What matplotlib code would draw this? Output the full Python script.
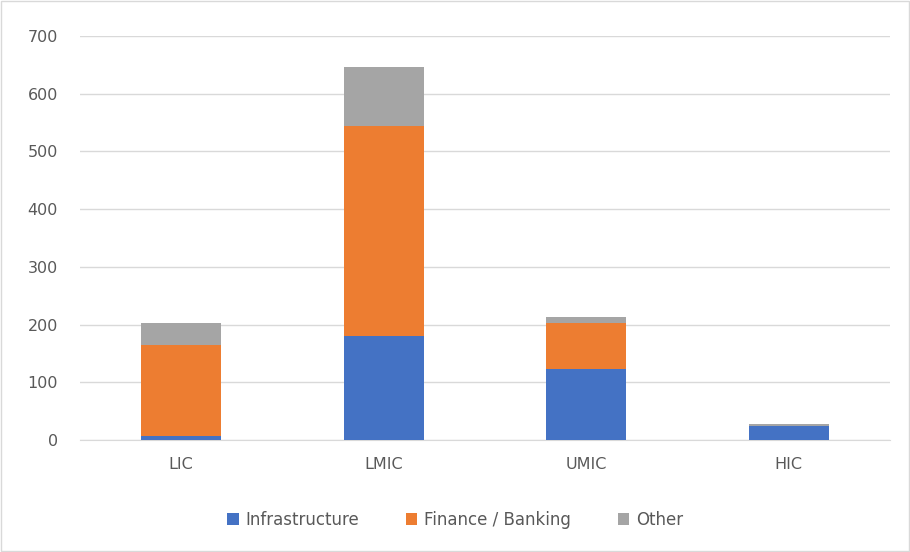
import matplotlib.pyplot as plt
import numpy as np

# income groups and stacked values
categories = ['LIC', 'LMIC', 'UMIC', 'HIC']
infrastructure = [7, 180, 123, 25]
finance_banking = [157, 364, 80, 0]
other = [39, 102, 10, 2]

colors = {'Infrastructure': '#4472C4', 'Finance / Banking': '#ED7D31', 'Other': '#A5A5A5'}
text_color = '#595959'

fig = plt.figure(figsize=(9.1, 5.52), dpi=100)
ax = fig.add_axes([80 / 910, 1 - 440 / 552, 810 / 910, 404 / 552])

x = np.arange(len(categories))
width = 0.395
bottom2 = np.array(infrastructure)
bottom3 = bottom2 + np.array(finance_banking)

ax.bar(x, infrastructure, width, color=colors['Infrastructure'], label='Infrastructure', zorder=3)
ax.bar(x, finance_banking, width, bottom=bottom2, color=colors['Finance / Banking'],
       label='Finance / Banking', zorder=3)
ax.bar(x, other, width, bottom=bottom3, color=colors['Other'], label='Other', zorder=3)

ax.set_xlim(-0.5, 3.5)
ax.set_ylim(0, 700)
ax.set_yticks(range(0, 701, 100))
ax.grid(axis='y', color='#D9D9D9', linewidth=1, zorder=0)
for s in ['top', 'right', 'left']:
    ax.spines[s].set_visible(False)
ax.spines['bottom'].set_color('#D9D9D9')
ax.tick_params(length=0, colors=text_color, labelsize=11.5)
ax.tick_params(axis='y', pad=16)
ax.tick_params(axis='x', pad=12)
ax.set_xticks(x)
ax.set_xticklabels(categories)

fig.legend(loc='center', bbox_to_anchor=(0.5, 1 - 520 / 552), ncol=3, frameon=False,
           fontsize=12, labelcolor=text_color, handlelength=0.7, handleheight=0.7,
           columnspacing=2.8, handletextpad=0.4)

# light border around the whole chart
fig.patches.append(plt.Rectangle((0.001, 0.001), 0.998, 0.998, transform=fig.transFigure,
                                 fill=False, edgecolor='#D9D9D9', linewidth=1))

plt.savefig('out.png', dpi=100)
